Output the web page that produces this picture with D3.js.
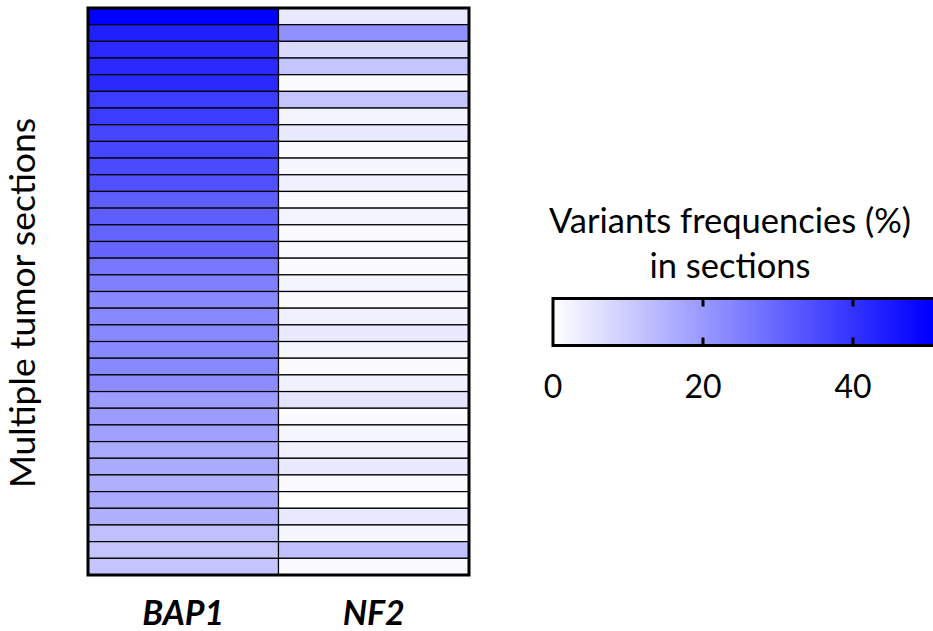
<!DOCTYPE html>
<html>
<head>
<meta charset="utf-8">
<script src="https://cdn.jsdelivr.net/npm/d3@7"></script>
<style>
  body { margin: 0; background: #fff; }
  svg { display: block; font-family: Lato, 'Open Sans', sans-serif; }
</style>
</head>
<body>
<svg id="chart" width="933" height="631"></svg>
<script>
const genes = ['BAP1', 'NF2'];
// variant frequency (%) per tumor section, top to bottom
const bap1Values = [50, 43.7, 41.8, 41.8, 41.8, 38.2, 38.2, 36.3, 36.3, 35.5, 34.3, 31.6, 31.6, 30.4, 30,
  26.5, 24.9, 23.3, 23.3, 23.3, 23.3, 23.3, 22.5, 19.4, 19.4, 18.6, 16.7, 16.7, 15.5, 16.7, 15.5, 12.4, 11.6, 11.6];
const nf2Values = [4.5, 21.8, 7.3, 11.6, 1, 11.6, 2.2, 4.1, 1, 1.8, 2.9, 1, 2.2, 1, 1, 1, 2.2,
  1, 2.9, 4.1, 1.8, 1, 2.9, 5.3, 1, 1.8, 2.9, 4.1, 1, 0, 4.1, 1.8, 12.4, 1];
const legendTicks = [0, 20, 40];

const svg = d3.select('#chart');
const color = d3.scaleLinear().domain([0, 50]).range(['#ffffff', '#0000ff']).clamp(true);

const sections = d3.range(bap1Values.length);
const cells = [];
sections.forEach(i => {
  cells.push({ gene: 'BAP1', row: i, value: bap1Values[i] });
  cells.push({ gene: 'NF2', row: i, value: nf2Values[i] });
});

const x = d3.scaleBand().domain(genes).range([88, 469]);
const y = d3.scaleBand().domain(sections).range([8, 575]);

svg.append('g')
  .selectAll('rect')
  .data(cells)
  .enter()
  .append('rect')
  .attr('x', d => x(d.gene))
  .attr('y', d => y(d.row))
  .attr('width', x.bandwidth())
  .attr('height', y.bandwidth())
  .attr('fill', d => color(d.value))
  .attr('stroke', '#000')
  .attr('stroke-width', 1.2);

// outer frame
svg.append('rect')
  .attr('x', x.range()[0])
  .attr('y', y.range()[0])
  .attr('width', x.range()[1] - x.range()[0])
  .attr('height', y.range()[1] - y.range()[0])
  .attr('fill', 'none')
  .attr('stroke', '#000')
  .attr('stroke-width', 3);

svg.append('g')
  .selectAll('text')
  .data(genes)
  .enter()
  .append('text')
  .attr('x', d => x(d) + x.bandwidth() / 2)
  .attr('y', 625)
  .attr('text-anchor', 'middle')
  .style('font-size', '34px')
  .style('font-weight', 'bold')
  .style('font-style', 'italic')
  .text(d => d);

svg.append('text')
  .attr('transform', 'translate(35, 303) rotate(-90)')
  .attr('text-anchor', 'middle')
  .style('font-size', '35.5px')
  .text('Multiple tumor sections');

// colour legend
const lx = d3.scaleLinear().domain([0, 50]).range([553, 928]);
const barTop = 298.5, barBottom = 345.5;

const grad = svg.append('defs')
  .append('linearGradient')
  .attr('id', 'legend-grad')
  .attr('gradientUnits', 'userSpaceOnUse')
  .attr('x1', lx(0)).attr('x2', lx(50))
  .attr('y1', 0).attr('y2', 0);
grad.selectAll('stop')
  .data([0, 50])
  .enter()
  .append('stop')
  .attr('offset', d => d / 50)
  .attr('stop-color', d => color(d));

svg.append('rect')
  .attr('x', lx(0))
  .attr('y', barTop)
  .attr('width', lx(52) - lx(0))
  .attr('height', barBottom - barTop)
  .attr('fill', 'url(#legend-grad)')
  .attr('stroke', '#000')
  .attr('stroke-width', 3);

const tickG = svg.append('g');
tickG.selectAll('line.top')
  .data(legendTicks.slice(1))
  .enter()
  .append('line')
  .attr('x1', d => lx(d)).attr('x2', d => lx(d))
  .attr('y1', barTop).attr('y2', barTop + 8)
  .attr('stroke', '#000').attr('stroke-width', 3);
tickG.selectAll('line.bottom')
  .data(legendTicks.slice(1))
  .enter()
  .append('line')
  .attr('x1', d => lx(d)).attr('x2', d => lx(d))
  .attr('y1', barBottom - 8).attr('y2', barBottom)
  .attr('stroke', '#000').attr('stroke-width', 3);

svg.append('g')
  .selectAll('text')
  .data(legendTicks)
  .enter()
  .append('text')
  .attr('x', d => lx(d))
  .attr('y', 398)
  .attr('text-anchor', 'middle')
  .style('font-size', '32px')
  .text(d => d);

const title = svg.append('text')
  .attr('text-anchor', 'middle')
  .style('font-size', '34.5px');
title.append('tspan').attr('x', 730).attr('y', 233).text('Variants frequencies (%)');
title.append('tspan').attr('x', 730).attr('y', 278).text('in sections');
</script>
</body>
</html>
